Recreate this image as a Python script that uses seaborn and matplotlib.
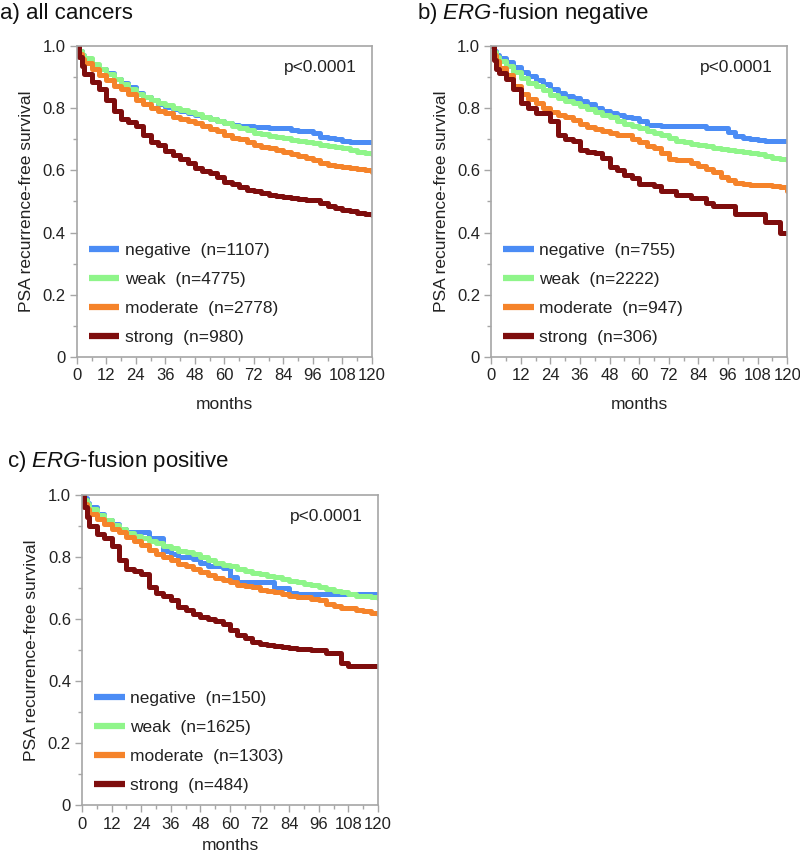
import numpy as np
import pandas as pd
import matplotlib
matplotlib.use('Agg')
import matplotlib.pyplot as plt
import seaborn as sns
from matplotlib.ticker import MultipleLocator, FixedLocator, FuncFormatter
from matplotlib.lines import Line2D

sns.set_style('white')
plt.rcParams['font.family'] = ['Liberation Sans', 'DejaVu Sans']
plt.rcParams['mathtext.fontset'] = 'custom'
plt.rcParams['mathtext.rm'] = 'Liberation Sans'
plt.rcParams['mathtext.it'] = 'Liberation Sans:italic'

# time grid (months)
months = [0, 1, 2] + list(range(3, 121, 3))

groups = ['negative', 'weak', 'moderate', 'strong']
colors = ['#4b8cf5', '#8ff58a', '#f5832a', '#7e0d0d']

# a) all cancers
a_neg = [1.0, 0.985, 0.97, 0.958, 0.94, 0.925, 0.912, 0.895, 0.88, 0.868,
         0.848, 0.836, 0.825, 0.814, 0.804, 0.797, 0.79, 0.784, 0.778, 0.772,
         0.766, 0.76, 0.753, 0.747, 0.743, 0.741, 0.740, 0.738, 0.736, 0.735,
         0.735, 0.731, 0.727, 0.726, 0.72, 0.708, 0.705, 0.70, 0.695, 0.692,
         0.692, 0.692, 0.692]
a_weak = [1.0, 0.985, 0.972, 0.96, 0.943, 0.927, 0.911, 0.893, 0.878, 0.862,
          0.845, 0.835, 0.826, 0.818, 0.810, 0.801, 0.794, 0.788, 0.781, 0.773,
          0.765, 0.758, 0.751, 0.744, 0.736, 0.729, 0.721, 0.716, 0.711, 0.706,
          0.703, 0.699, 0.694, 0.690, 0.687, 0.682, 0.677, 0.674, 0.671, 0.665,
          0.66, 0.656, 0.652]
a_mod = [1.0, 0.975, 0.958, 0.945, 0.925, 0.908, 0.89, 0.872, 0.86, 0.845,
         0.826, 0.812, 0.80, 0.791, 0.783, 0.773, 0.765, 0.759, 0.753, 0.744,
         0.733, 0.726, 0.713, 0.705, 0.70, 0.69, 0.681, 0.676, 0.673, 0.666,
         0.66, 0.653, 0.646, 0.64, 0.633, 0.624, 0.618, 0.614, 0.61, 0.606,
         0.604, 0.60, 0.594]
a_str = [1.0, 0.965, 0.935, 0.91, 0.883, 0.862, 0.826, 0.79, 0.766, 0.756,
         0.744, 0.715, 0.692, 0.68, 0.662, 0.648, 0.635, 0.622, 0.608, 0.598,
         0.59, 0.578, 0.564, 0.555, 0.547, 0.538, 0.532, 0.528, 0.522, 0.518,
         0.515, 0.512, 0.508, 0.506, 0.503, 0.494, 0.485, 0.478, 0.473, 0.468,
         0.464, 0.46, 0.457]
a_n = [1107, 4775, 2778, 980]

# b) ERG-fusion negative
b_neg = [1.0, 0.985, 0.972, 0.96, 0.948, 0.932, 0.917, 0.903, 0.89, 0.877,
         0.862, 0.848, 0.838, 0.832, 0.823, 0.812, 0.80, 0.792, 0.783, 0.777,
         0.773, 0.767, 0.757, 0.747, 0.745, 0.744, 0.743, 0.742, 0.742, 0.742,
         0.741, 0.736, 0.735, 0.735, 0.724, 0.71, 0.705, 0.70, 0.697, 0.695,
         0.695, 0.695, 0.694]
b_weak = [1.0, 0.982, 0.965, 0.953, 0.935, 0.915, 0.897, 0.882, 0.87, 0.857,
          0.843, 0.832, 0.822, 0.815, 0.808, 0.798, 0.788, 0.778, 0.77, 0.76,
          0.75, 0.742, 0.735, 0.727, 0.72, 0.715, 0.705, 0.695, 0.69, 0.685,
          0.682, 0.678, 0.673, 0.668, 0.665, 0.662, 0.658, 0.655, 0.652, 0.645,
          0.64, 0.636, 0.632]
b_mod = [1.0, 0.97, 0.95, 0.93, 0.905, 0.87, 0.845, 0.83, 0.815, 0.80,
         0.787, 0.777, 0.772, 0.762, 0.75, 0.74, 0.733, 0.727, 0.72, 0.715,
         0.712, 0.70, 0.69, 0.677, 0.672, 0.655, 0.637, 0.633, 0.632, 0.625,
         0.615, 0.605, 0.595, 0.58, 0.568, 0.56, 0.555, 0.553, 0.553, 0.553,
         0.55, 0.545, 0.535]
b_str = [1.0, 0.955, 0.925, 0.912, 0.895, 0.86, 0.815, 0.80, 0.785, 0.785,
         0.76, 0.712, 0.70, 0.695, 0.665, 0.66, 0.655, 0.64, 0.61, 0.60,
         0.585, 0.575, 0.557, 0.555, 0.548, 0.535, 0.535, 0.522, 0.522, 0.51,
         0.51, 0.495, 0.485, 0.485, 0.485, 0.46, 0.46, 0.46, 0.46, 0.435,
         0.435, 0.40, 0.40]
b_n = [755, 2222, 947, 306]

# c) ERG-fusion positive
c_neg = [1.0, 0.99, 0.975, 0.96, 0.94, 0.92, 0.905, 0.89, 0.88, 0.88,
         0.88, 0.86, 0.86, 0.82, 0.81, 0.80, 0.80, 0.795, 0.78, 0.77,
         0.77, 0.765, 0.735, 0.72, 0.72, 0.72, 0.72, 0.72, 0.70, 0.70,
         0.685, 0.68, 0.68, 0.68, 0.68, 0.68, 0.68, 0.68, 0.68, 0.68,
         0.68, 0.68, 0.68]
c_weak = [1.0, 0.985, 0.97, 0.955, 0.935, 0.918, 0.903, 0.89, 0.878, 0.868,
          0.86, 0.852, 0.845, 0.835, 0.828, 0.82, 0.815, 0.81, 0.80, 0.79,
          0.78, 0.775, 0.77, 0.763, 0.755, 0.75, 0.745, 0.74, 0.735, 0.73,
          0.724, 0.718, 0.713, 0.71, 0.705, 0.698, 0.692, 0.687, 0.68, 0.676,
          0.673, 0.67, 0.668]
c_mod = [1.0, 0.97, 0.955, 0.94, 0.922, 0.905, 0.89, 0.88, 0.865, 0.852,
         0.838, 0.822, 0.81, 0.80, 0.79, 0.778, 0.77, 0.763, 0.752, 0.742,
         0.733, 0.727, 0.718, 0.71, 0.707, 0.703, 0.695, 0.69, 0.687, 0.682,
         0.675, 0.672, 0.67, 0.665, 0.66, 0.65, 0.643, 0.637, 0.635, 0.63,
         0.625, 0.62, 0.615]
c_str = [1.0, 0.96, 0.93, 0.90, 0.875, 0.86, 0.835, 0.79, 0.76, 0.755,
         0.745, 0.705, 0.685, 0.675, 0.66, 0.64, 0.628, 0.618, 0.608, 0.60,
         0.595, 0.585, 0.565, 0.55, 0.54, 0.525, 0.52, 0.518, 0.515, 0.51,
         0.508, 0.505, 0.505, 0.50, 0.50, 0.49, 0.49, 0.458, 0.45, 0.45,
         0.45, 0.45, 0.45]
c_n = [150, 1625, 1303, 484]

panels = [
    ('a) all cancers', [a_neg, a_weak, a_mod, a_str], a_n),
    (r'b) $\it{ERG}$-fusion negative', [b_neg, b_weak, b_mod, b_str], b_n),
    (r'c) $\it{ERG}$-fusion positive', [c_neg, c_weak, c_mod, c_str], c_n),
]

# axes boxes in figure fraction, title positions, x-label pads
boxes = [[0.096, 0.585, 0.369, 0.3616],
         [0.614, 0.585, 0.370, 0.3616],
         [0.1025, 0.0635, 0.370, 0.361]]
title_pos = [(0.0, 1 - 13 / 860), (0.521, 1 - 13 / 860), (0.009, 1 - 462 / 860)]
xpads = [10, 10, 5]

fig = plt.figure(figsize=(8, 8.6), dpi=100)
spine_col = '#a6a6a6'

for (title, curves, ns), box, tp, xp in zip(panels, boxes, title_pos, xpads):
    ax = fig.add_axes(box)
    rows = []
    for g, s in zip(groups, curves):
        for t, v in zip(months, s):
            rows.append((g, t, v))
    df = pd.DataFrame(rows, columns=['group', 'months', 'surv'])
    sns.lineplot(data=df, x='months', y='surv', hue='group', hue_order=groups,
                 palette=colors, estimator=None, drawstyle='steps-post',
                 linewidth=3.6, legend=False, ax=ax)

    ax.set_xlim(0, 120)
    ax.set_ylim(0, 1.0)
    ax.xaxis.set_major_locator(MultipleLocator(12))
    ax.xaxis.set_minor_locator(MultipleLocator(6))
    ax.yaxis.set_major_locator(FixedLocator([0, 0.2, 0.4, 0.6, 0.8, 1.0]))
    ax.yaxis.set_minor_locator(MultipleLocator(0.1))
    ax.yaxis.set_major_formatter(FuncFormatter(lambda v, p: '0' if v == 0 else f'{v:.1f}'))
    ax.tick_params(which='major', direction='out', length=5, width=1, color=spine_col,
                   labelsize=12, labelcolor='#222222', pad=3, bottom=True, left=True)
    ax.tick_params(which='minor', direction='out', length=3, width=1, color=spine_col,
                   bottom=True, left=True)
    for sp in ax.spines.values():
        sp.set_color(spine_col)
        sp.set_linewidth(1.2)
        sp.set_visible(True)
    ax.set_xlabel('months', fontsize=12.5, color='#222222', labelpad=xp)
    ax.set_ylabel('PSA recurrence-free survival', fontsize=12.5, color='#222222', labelpad=6)

    ax.text(0.95, 0.93, 'p<0.0001', transform=ax.transAxes, ha='right', va='center',
            fontsize=12.5, color='#222222')

    handles = [Line2D([0], [0], color=c, lw=4.5, solid_capstyle='butt') for c in colors]
    labels = [f'{g}  (n={n})' for g, n in zip(groups, ns)]
    ax.legend(handles, labels, loc='lower left', bbox_to_anchor=(0.0, 0.0),
              frameon=False, fontsize=12.5, handlelength=1.75, handletextpad=0.3,
              labelspacing=0.8, borderpad=0.2, labelcolor='#222222')

    fig.text(tp[0], tp[1], title, fontsize=16, ha='left', va='center', color='#111111')

fig.savefig('out.png', dpi=100)
